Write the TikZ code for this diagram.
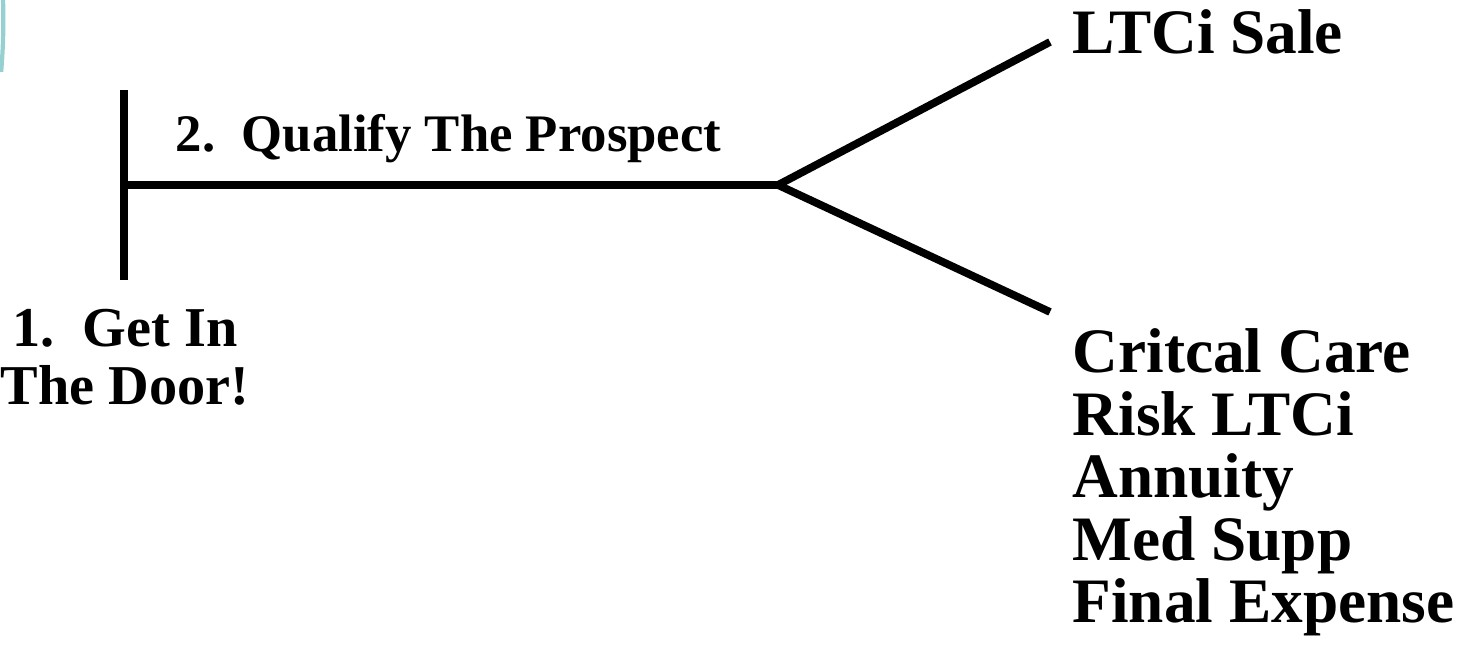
\documentclass[tikz,border=0pt]{standalone}
\usepackage{fontspec}
\setmainfont{Liberation Serif}
\usetikzlibrary{
    positioning
}
\definecolor{arcteal}{RGB}{150,208,208}
\tikzset{
    rama/.style={
        line width=2.2pt
    },
    etiqueta/.style={
        font=\bfseries\fontsize{18}{17.8}\selectfont,
        inner sep=0pt,
        align=left
    },
    paso/.style={
        font=\bfseries\fontsize{16}{16.5}\selectfont,
        inner sep=0pt,
        align=center
    }
}

\begin{document}
\begin{tikzpicture}[
    x=0.01cm,
    y=-0.01cm
]
    \useasboundingbox (0,0) rectangle (1462,662);

    % Arco de fondo
    \begin{scope}
        \clip (0,0) rectangle (30,72);
        \draw[arcteal, line width=1.2pt] (-597,20) circle[radius=6cm];
    \end{scope}

    % Puntos
    \coordinate (arriba) at (124,90);
    \coordinate (abajo)  at (124,280);
    \coordinate (tallo)  at (124,185);
    \coordinate (cruce)  at (778,185);
    \coordinate (finA)   at (1050,42);
    \coordinate (finB)   at (1050,312);

    % Textos
    \node[etiqueta, anchor=base west] (venta) at (1072,54) {LTCi Sale};
    \node[etiqueta, anchor=north west] (otros) at (1072,328)
        {Critcal Care\\Risk LTCi\\Annuity\\Med Supp\\Final Expense};
    \node[paso, font=\bfseries\fontsize{15}{16}\selectfont, anchor=base west]
        (califica) at (175,152) {2.\ \ Qualify The Prospect};
    \node[paso, anchor=north] (puerta) at (125,309) {1.\ \ Get In\\The Door!};

    % Lineas
    \draw[rama] (arriba) -- (abajo);
    \draw[rama] (tallo) -- (cruce);
    \draw[rama] (cruce) -- (finA);
    \draw[rama] (cruce) -- (finB);

\end{tikzpicture}
\end{document}
